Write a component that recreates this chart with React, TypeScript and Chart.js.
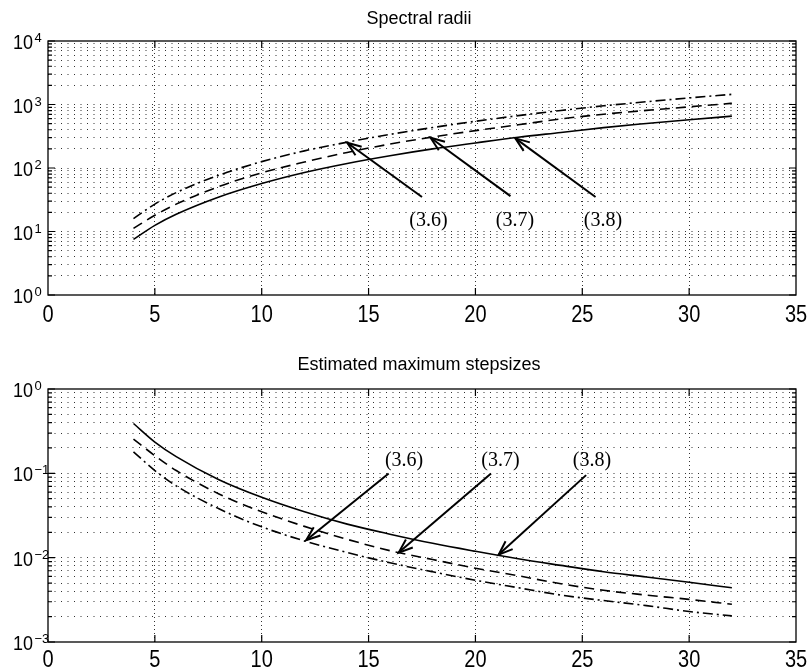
import React, { useEffect, useRef } from 'react';
import { Chart, registerables } from 'chart.js';

Chart.register(...registerables);

// ---------- data ----------
const xValues = [4, 5, 6, 8, 10, 12, 14, 16, 18, 20, 22, 24, 26, 28, 30, 32];

// Spectral radii
const radii36 = [16, 27, 41, 77, 126, 186, 255, 338, 434, 544, 668, 806, 953, 1105, 1269, 1444];
const radii37 = [11.2, 18, 27, 51, 84, 124, 176, 238, 308, 388, 479, 593, 703, 807, 918, 1045];
const radii38 = [7.5, 12.5, 18.7, 35, 57, 85, 118, 156, 200, 248, 305, 363, 433, 502, 576, 655];

// Estimated maximum stepsizes
const step36 = [0.18, 0.108, 0.071, 0.038, 0.0232, 0.0158, 0.0115, 0.0087, 0.0068, 0.0054, 0.0044, 0.0036, 0.0031, 0.0027, 0.0023, 0.00204];
const step37 = [0.255, 0.162, 0.108, 0.057, 0.035, 0.0235, 0.0165, 0.0121, 0.0095, 0.0075, 0.0061, 0.0049, 0.0041, 0.0036, 0.0032, 0.0028];
const step38 = [0.39, 0.235, 0.158, 0.084, 0.052, 0.035, 0.025, 0.019, 0.0148, 0.0119, 0.0097, 0.0081, 0.0068, 0.0059, 0.0051, 0.0044];

const seriesLabels = ['(3.6)', '(3.7)', '(3.8)'];
const xTickValues = [0, 5, 10, 15, 20, 25, 30, 35];
const topDecades = [0, 1, 2, 3, 4];
const bottomDecades = [-3, -2, -1, 0];
const topTitle = 'Spectral radii';
const bottomTitle = 'Estimated maximum stepsizes';

// annotation anchors (data units)
const topArrowTips = [[14, 250], [17.9, 300], [21.87, 293]];
const topArrowTails = [[17.5, 35], [21.64, 36], [25.62, 35]];
const topLabelAt = [[17.8, 14.6], [21.85, 14.6], [25.97, 14.6]];
const bottomArrowTips = [[12.08, 0.0161], [16.41, 0.01148], [21.09, 0.01087]];
const bottomArrowTails = [[15.94, 0.0998], [20.73, 0.0998], [25.18, 0.0952]];
const bottomLabelAt = [[16.66, 0.1396], [21.17, 0.1396], [25.45, 0.1396]];

const DASHED = [10, 6];
const DASHDOT = [10, 4, 2, 4];

const sup = (e: number) => String(e).replace('-', '\u2212');

type PanelProps = {
  title: string;
  s36: number[];
  s37: number[];
  s38: number[];
  decades: number[];
  tips: number[][];
  tails: number[][];
  labelsAt: number[][];
  padTop: number;
  padBottom: number;
  titleY: number;
  xLabelOffset: number;
  top: number;
};

function Panel(p: PanelProps) {
  const ref = useRef<HTMLCanvasElement | null>(null);
  useEffect(() => {
    const canvas = ref.current;
    if (!canvas) return;
    const yMin = Math.pow(10, p.decades[0]);
    const yMax = Math.pow(10, p.decades[p.decades.length - 1]);
    const yTicks: number[] = [];
    for (let i = 0; i < p.decades.length; i++) {
      const d = p.decades[i];
      const base = Math.pow(10, d);
      if (i === p.decades.length - 1) {
        yTicks.push(base);
      } else {
        for (let m = 1; m <= 9; m++) yTicks.push(parseFloat((m * base).toPrecision(6)));
      }
    }

    const overlay = {
      id: 'overlay',
      afterDraw(chart: any) {
        const { ctx, chartArea: a, scales } = chart;
        const xs = scales.x;
        const ys = scales.y;
        ctx.save();
        ctx.setLineDash([]);
        ctx.strokeStyle = '#000';
        ctx.fillStyle = '#000';
        // box
        ctx.lineWidth = 1.3;
        ctx.strokeRect(a.left, a.top, a.right - a.left, a.bottom - a.top);
        // x ticks + labels
        ctx.lineWidth = 1.2;
        for (const v of xTickValues) {
          const px = xs.getPixelForValue(v);
          if (v > 0 && v < 35) {
            ctx.beginPath();
            ctx.moveTo(px, a.bottom);
            ctx.lineTo(px, a.bottom - 7);
            ctx.moveTo(px, a.top);
            ctx.lineTo(px, a.top + 7);
            ctx.stroke();
          }
          ctx.save();
          ctx.translate(px, a.bottom + p.xLabelOffset);
          ctx.scale(1, 1.22);
          ctx.font = '20px "Liberation Sans", Arial, sans-serif';
          ctx.textAlign = 'center';
          ctx.textBaseline = 'middle';
          ctx.fillText(String(v), 0, 0);
          ctx.restore();
        }
        // y ticks
        for (const v of yTicks) {
          const py = ys.getPixelForValue(v);
          const lg = Math.log10(v);
          const major = Math.abs(lg - Math.round(lg)) < 1e-6;
          const len = major ? 7 : 4;
          ctx.beginPath();
          ctx.moveTo(a.left, py);
          ctx.lineTo(a.left + len, py);
          ctx.moveTo(a.right, py);
          ctx.lineTo(a.right - len, py);
          ctx.stroke();
        }
        // y labels
        for (const d of p.decades) {
          const py = ys.getPixelForValue(Math.pow(10, d));
          ctx.save();
          ctx.translate(a.left - 15, py + 8);
          ctx.scale(1, 1.1);
          ctx.font = '18px "Liberation Sans", Arial, sans-serif';
          ctx.textAlign = 'right';
          ctx.textBaseline = 'alphabetic';
          ctx.fillText('10', 0, 0);
          ctx.restore();
          ctx.font = '13px "Liberation Sans", Arial, sans-serif';
          ctx.textAlign = 'left';
          ctx.textBaseline = 'alphabetic';
          ctx.fillText(sup(d), a.left - 13.5, py + 1);
        }
        // title
        ctx.font = '18px "Liberation Sans", Arial, sans-serif';
        ctx.textAlign = 'center';
        ctx.textBaseline = 'middle';
        ctx.fillText(p.title, (a.left + a.right) / 2 - 3, p.titleY);
        // arrows
        ctx.lineWidth = 2;
        for (let i = 0; i < p.tips.length; i++) {
          const tx = xs.getPixelForValue(p.tips[i][0]);
          const ty = ys.getPixelForValue(p.tips[i][1]);
          const sx = xs.getPixelForValue(p.tails[i][0]);
          const sy = ys.getPixelForValue(p.tails[i][1]);
          ctx.beginPath();
          ctx.moveTo(sx, sy);
          ctx.lineTo(tx, ty);
          ctx.stroke();
          const ang = Math.atan2(ty - sy, tx - sx);
          const hl = 15;
          const ha = 0.36;
          ctx.beginPath();
          ctx.moveTo(tx - hl * Math.cos(ang - ha), ty - hl * Math.sin(ang - ha));
          ctx.lineTo(tx, ty);
          ctx.lineTo(tx - hl * Math.cos(ang + ha), ty - hl * Math.sin(ang + ha));
          ctx.stroke();
          const lx = xs.getPixelForValue(p.labelsAt[i][0]);
          const ly = ys.getPixelForValue(p.labelsAt[i][1]);
          ctx.font = '20px "Liberation Serif", "Times New Roman", serif';
          ctx.textAlign = 'center';
          ctx.textBaseline = 'middle';
          ctx.fillText(seriesLabels[i], lx, ly);
        }
        ctx.restore();
      },
    };

    const mk = (vals: number[]) => xValues.map((x, i) => ({ x, y: vals[i] }));
    const ds = (vals: number[], dash: number[], label: string) => ({
      label,
      data: mk(vals),
      borderColor: '#000',
      borderWidth: 1.6,
      borderDash: dash,
      pointRadius: 0,
      fill: false,
      cubicInterpolationMode: 'monotone' as const,
    });

    const chart = new Chart(canvas, {
      type: 'line',
      data: {
        datasets: [
          ds(p.s36, DASHDOT, seriesLabels[0]),
          ds(p.s37, DASHED, seriesLabels[1]),
          ds(p.s38, [], seriesLabels[2]),
        ],
      },
      options: {
        animation: false,
        responsive: false,
        devicePixelRatio: 1,
        layout: { padding: { left: 48, right: 14, top: p.padTop, bottom: p.padBottom } },
        plugins: { legend: { display: false }, tooltip: { enabled: false }, title: { display: false } },
        scales: {
          x: {
            type: 'linear',
            min: 0,
            max: 35,
            ticks: { display: false, stepSize: 5 },
            afterBuildTicks: (s: any) => {
              s.ticks = xTickValues.map((v) => ({ value: v }));
            },
            border: { display: false, dash: [1, 3] },
            grid: {
              drawTicks: false,
              lineWidth: 1,
              color: (c: any) => (c.tick && (c.tick.value === 0 || c.tick.value === 35) ? 'rgba(0,0,0,0)' : '#333'),
            },
          },
          y: {
            type: 'logarithmic',
            min: yMin,
            max: yMax,
            ticks: { display: false, autoSkip: false },
            afterBuildTicks: (s: any) => {
              s.ticks = yTicks.map((v) => ({ value: v }));
            },
            border: { display: false, dash: [1, 5.5] },
            grid: {
              drawTicks: false,
              lineWidth: 1,
              color: (c: any) => (c.tick && (c.tick.value === yMin || c.tick.value === yMax) ? 'rgba(0,0,0,0)' : '#333'),
            },
          },
        },
      },
      plugins: [overlay],
    } as any);
    return () => chart.destroy();
  }, []);
  return (
    <canvas
      ref={ref}
      width={810}
      height={335}
      style={{ position: 'absolute', left: 0, top: p.top, width: 810, height: 335, display: 'block' }}
    />
  );
}

export default function App() {
  return (
    <div style={{ position: 'absolute', left: 0, top: 0, width: 810, height: 670, background: '#fff', overflow: 'hidden' }}>
      <Panel
        title={topTitle}
        s36={radii36}
        s37={radii37}
        s38={radii38}
        decades={topDecades}
        tips={topArrowTips}
        tails={topArrowTails}
        labelsAt={topLabelAt}
        padTop={41}
        padBottom={40}
        titleY={19}
        xLabelOffset={20}
        top={0}
      />
      <Panel
        title={bottomTitle}
        s36={step36}
        s37={step37}
        s38={step38}
        decades={bottomDecades}
        tips={bottomArrowTips}
        tails={bottomArrowTails}
        labelsAt={bottomLabelAt}
        padTop={54}
        padBottom={28}
        titleY={30}
        xLabelOffset={18}
        top={335}
      />
    </div>
  );
}
